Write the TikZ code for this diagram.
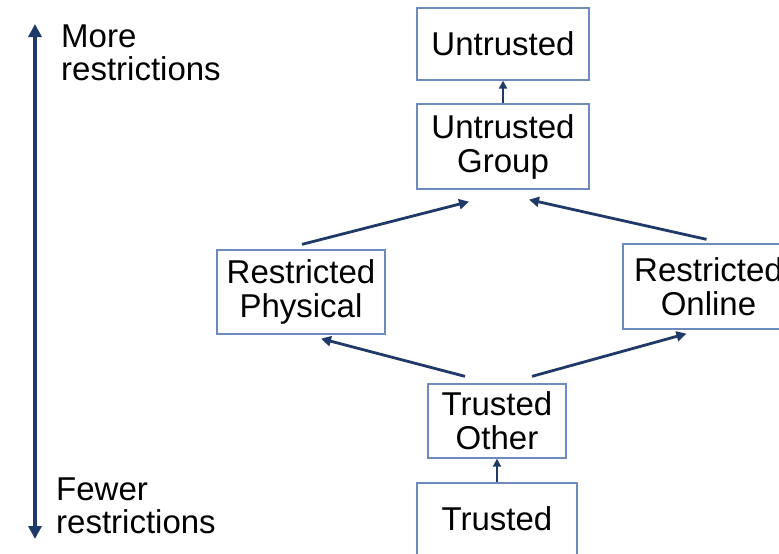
\documentclass[tikz,border=0pt]{standalone}
\usepackage{fontspec}
\setmainfont{Liberation Sans}
\usetikzlibrary{arrows.meta,calc}
\definecolor{navy}{HTML}{1F3A68}
\definecolor{boxblue}{HTML}{6F8BBE}
\tikzset{
  box/.style={draw=boxblue, line width=1.3pt, rectangle, inner sep=0pt, align=center,
    font=\fontsize{33}{34}\selectfont, text=black},
  conn/.style={draw=navy, line width=2.8pt, -{Triangle[length=10pt,width=10pt]}},
  shortconn/.style={draw=navy, line width=2.5pt, -{Triangle[length=8pt,width=8pt]}},
  side/.style={align=left, anchor=north west, inner sep=0pt, font=\fontsize{33}{33}\selectfont}
}
\begin{document}
\begin{tikzpicture}[x=1pt,y=-1pt]
\useasboundingbox (0,0) rectangle (779,554);
\fill[white] (0,0) rectangle (779,554);
% boxes
\node[box, minimum width=172pt, minimum height=72pt] (U) at (503,44) {\raisebox{-2pt}{Untrusted}};
\node[box, minimum width=172pt, minimum height=85pt] (UG) at (503,146.5) {Untrusted\\Group};
\node[box, minimum width=168pt, minimum height=84pt] (RP) at (301,292) {Restricted\\Physical};
\node[box, minimum width=171pt, minimum height=85pt] (RO) at (708.5,286.5) {Restricted\\Online};
\node[box, minimum width=138pt, minimum height=74pt] (TO) at (497,421) {Trusted\\Other};
\node[box, minimum width=160pt, minimum height=72pt] (T) at (497,519) {\raisebox{-2pt}{Trusted}};
% connectors
\draw[shortconn] (UG.north) -- (U.south);
\draw[shortconn] (T.north) -- (TO.south);
\draw[conn] ($(RP.north)+(1,-5)$) -- ($(UG.south)+(-34,12)$);
\draw[conn] ($(RO.north)+(-2,-4)$) -- ($(UG.south)+(26,10)$);
\draw[conn] ($(TO.north)+(-32,-7)$) -- ($(RP.south)+(20,4)$);
\draw[conn] ($(TO.north)+(35,-7)$) -- ($(RO.south)+(-22,4)$);
% side scale
\coordinate (top) at (35,24);
\coordinate (bot) at (35,539);
\draw[draw=navy, line width=3.4pt, {Triangle[length=13pt,width=13pt]}-{Triangle[length=13pt,width=13pt]}] (top) -- (bot);
\node[side] (more) at (61,25) {More\\restrictions};
\node[side] (fewer) at (56,478) {Fewer\\restrictions};
\end{tikzpicture}
\end{document}
